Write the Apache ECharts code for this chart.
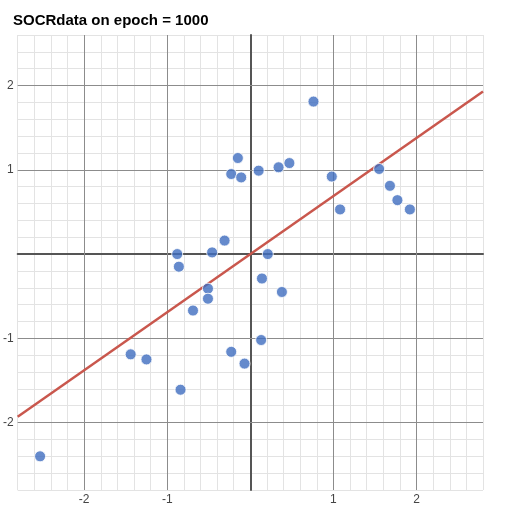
<!DOCTYPE html>
<html>
<head>
<meta charset="utf-8">
<script src="https://cdn.jsdelivr.net/npm/echarts@6/dist/echarts.min.js"></script>
<style>html,body{margin:0;padding:0;background:#fff}#chart{width:507px;height:508px}</style>
</head>
<body>
<div id="chart"></div>
<script>
// points
var pointX = [-2.53, -1.44, -1.25, -0.88, -0.86, -0.84, -0.69, -0.51, -0.51, -0.46, -0.31, -0.23, -0.15, -0.11, -0.23, -0.07, 0.10, 0.14, 0.13, 0.21, 0.38, 0.34, 0.47, 0.76, 0.98, 1.08, 1.55, 1.68, 1.77, 1.92];
var pointY = [-2.40, -1.19, -1.25, 0.00, -0.15, -1.61, -0.67, -0.41, -0.53, 0.02, 0.16, 0.95, 1.14, 0.91, -1.16, -1.30, 0.99, -0.29, -1.02, 0.00, -0.45, 1.03, 1.08, 1.81, 0.92, 0.53, 1.01, 0.81, 0.64, 0.53];
var lineX = [-2.8, 2.8];
var lineY = [-1.93, 1.93];
var majorTicks = [-2, -1, 1, 2];

var points = pointX.map(function(x, i){ return [x, pointY[i]]; });
var fitLine = lineX.map(function(x, i){ return [x, lineY[i]]; });

function intLabel(v){
	var r = Math.round(v);
	if (Math.abs(v - r) > 1e-6 || r === 0) return '';
	return String(r);
}

var majorLines = [];
majorTicks.forEach(function(t){
	majorLines.push({xAxis: t});
	majorLines.push({yAxis: t});
});

var axisCommon = {
	type : 'value',
	interval : 0.2,
	axisLine : { onZero : true, lineStyle : { color : '#555555', width : 2 } },
	axisTick : { show : false },
	splitLine : { show : true, lineStyle : { color : '#e3e3e3', width : 1 } },
	axisLabel : {
		formatter : intLabel,
		color : '#444444',
		fontSize : 12,
		fontFamily : 'Arial',
		backgroundColor : '#ffffff'
	}
};

var chart = echarts.init(document.getElementById('chart'));
chart.setOption({
	animation : false,
	title : {
		text : 'SOCRdata on epoch = 1000',
		left : 8,
		top : 8,
		textStyle : { fontSize : 15, fontWeight : 'bold', color : '#000000', fontFamily : 'Arial' }
	},
	grid : { left : 10, right : 24, top : 35, bottom : 18 },
	xAxis : Object.assign({}, axisCommon, { min : -2.8, max : 2.8,
		axisLabel : Object.assign({}, axisCommon.axisLabel, { margin : 4 }) }),
	yAxis : Object.assign({}, axisCommon, { min : -2.8, max : 2.6,
		axisLabel : Object.assign({}, axisCommon.axisLabel, { margin : 4 }) }),
	series : [
		{
			type : 'line',
			data : fitLine,
			symbol : 'none',
			lineStyle : { color : '#c9574d', width : 2.5 },
			z : 3,
			markLine : {
				silent : true,
				symbol : 'none',
				label : { show : false },
				lineStyle : { color : '#8c8c8c', type : 'solid', width : 1 },
				data : majorLines,
				z : 1
			}
		},
		{
			type : 'scatter',
			data : points,
			symbolSize : 11,
			itemStyle : { color : '#3e6dbf', borderColor : '#ffffff', borderWidth : 1 },
			z : 4
		}
	]
});
</script>
</body>
</html>
